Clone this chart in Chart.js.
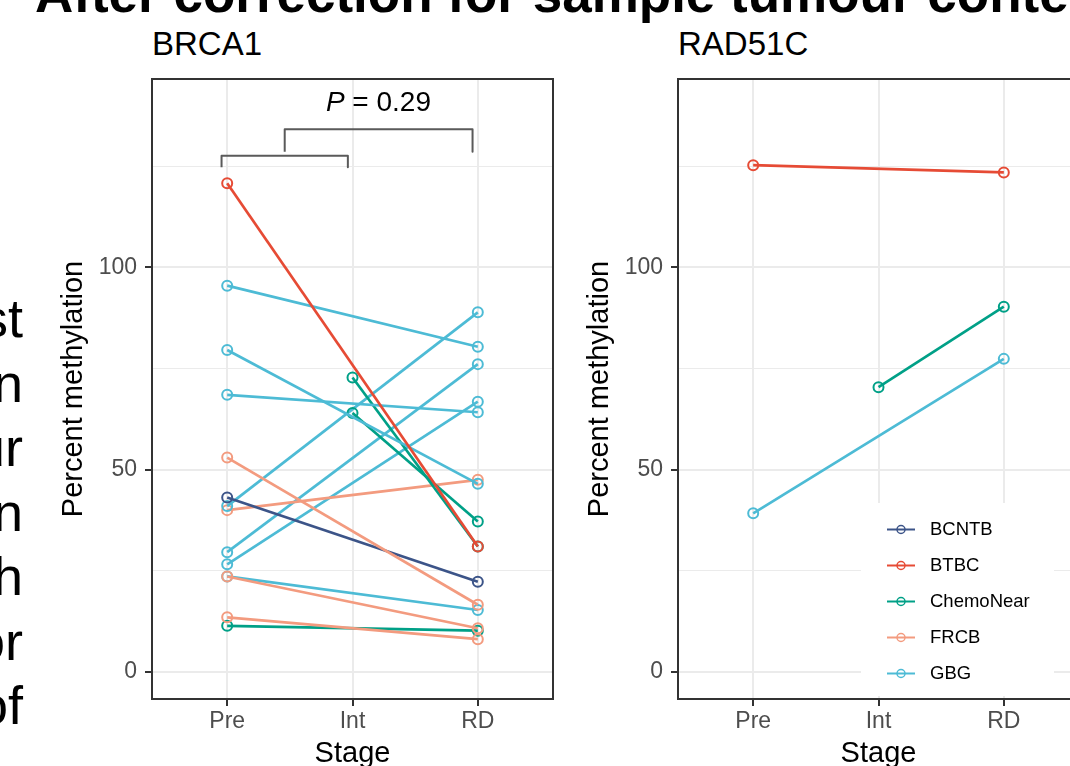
<!DOCTYPE html>
<html>
<head>
<meta charset="utf-8">
<title>Percent methylation by stage</title>
<script src="https://cdn.jsdelivr.net/npm/chart.js@4.4.1/dist/chart.umd.min.js"></script>
<style>
  body { margin: 0; background: #fff; }
  #page { position: relative; width: 1070px; height: 766px; overflow: hidden; font-family: 'Liberation Sans', Arial, sans-serif; color: #000; }
  .heading { position: absolute; left: 35px; top: -33px; font-size: 53px; line-height: 1; font-weight: bold; white-space: nowrap; }
  .side { position: absolute; right: 1047px; top: 286px; font-size: 54px; line-height: 64.5px; text-align: right; white-space: nowrap; }
  .ptitle { position: absolute; top: 27px; font-size: 33px; line-height: 1; white-space: nowrap; }
  canvas { position: absolute; top: 0; }
</style>
</head>
<body>
<div id="page">
  <div class="heading">After correction for sample tumour content</div>
  <div class="side">st<br>n<br>ur<br>n<br>h<br>or<br>of</div>
  <div class="ptitle" style="left:152px">BRCA1</div>
  <div class="ptitle" style="left:678px">RAD51C</div>
  <canvas id="brca1" width="560" height="790" style="left:0"></canvas>
  <canvas id="rad51c" width="560" height="790" style="left:526px"></canvas>
</div>
<script>
const stages = ['Pre', 'Int', 'RD'];
const groups = ['BCNTB', 'BTBC', 'ChemoNear', 'FRCB', 'GBG'];
const groupColors = ['#3C5488', '#E64B35', '#00A087', '#F39B7F', '#4DBBD5'];
const yTicks = [0, 25, 50, 75, 100, 125];

// BRCA1, one entry per patient (null = not sampled at that stage)
const brca1Group = ['BTBC', 'GBG', 'GBG', 'GBG', 'ChemoNear', 'ChemoNear', 'FRCB', 'BCNTB',
  'GBG', 'FRCB', 'GBG', 'GBG', 'FRCB', 'GBG', 'FRCB', 'ChemoNear'];
const brca1Pre = [120.8, 95.5, 79.6, 68.5, null, null, 53.0, 43.1, 41.0, 40.0, 29.6, 26.6, 23.6, 23.6, 13.5, 11.4];
const brca1Int = [null, null, null, null, 72.8, 64.0, null, null, null, null, null, null, null, null, null, null];
const brca1RD = [31.0, 80.4, 46.5, 64.2, 31.0, 37.2, 16.6, 22.3, 88.9, 47.5, 76.1, 66.8, 10.8, 15.3, 8.1, 10.2];

// RAD51C
const rad51cGroup = ['BTBC', 'ChemoNear', 'GBG'];
const rad51cPre = [125.3, null, 39.2];
const rad51cInt = [null, 70.4, null];
const rad51cRD = [123.5, 90.3, 77.4];

// comparison brackets and p value for BRCA1, in data units
const bracketX = [[-0.045, -0.045, 0.963, 0.963], [0.459, 0.459, 1.958, 1.958]];
const bracketY = [[124.8, 127.6, 127.6, 124.8], [128.6, 134.2, 134.2, 128.6]];
const pValue = '0.29';
const pLabelAt = { x: 1.207, y: 138.6 };

Chart.defaults.font.family = "'Liberation Sans', Arial, sans-serif";

function patientSets(groupArr, pre, int, rd) {
  return groupArr.map((g, i) => {
    const c = groupColors[groups.indexOf(g)];
    const pts = [pre[i], int[i], rd[i]]
      .map((v, j) => (v == null ? null : { x: j, y: v }))
      .filter(Boolean);
    return {
      label: g,
      data: pts,
      borderColor: c,
      borderWidth: 2.7,
      pointBorderColor: c,
      pointBackgroundColor: 'rgba(0,0,0,0)',
      pointRadius: 5,
      pointBorderWidth: 2,
      tension: 0
    };
  });
}

function bracketSets() {
  return bracketX.map((xs, k) => ({
    label: 'bracket',
    data: xs.map((x, j) => ({ x, y: bracketY[k][j] })),
    borderColor: '#5A5A5A',
    borderWidth: 2,
    borderJoinStyle: 'round',
    pointRadius: 0,
    tension: 0
  }));
}

function drawLegend(ctx) {
  ctx.fillStyle = '#fff';
  ctx.fillRect(335, 503, 193, 193);
  groups.forEach((g, i) => {
    const y = 529.5 + i * 36;
    ctx.strokeStyle = groupColors[i];
    ctx.lineWidth = 2;
    ctx.beginPath();
    ctx.moveTo(361, y);
    ctx.lineTo(389, y);
    ctx.stroke();
    ctx.lineWidth = 1.5;
    ctx.beginPath();
    ctx.arc(375, y, 4, 0, Math.PI * 2);
    ctx.stroke();
    ctx.fillStyle = '#000';
    ctx.font = "18.5px 'Liberation Sans', Arial, sans-serif";
    ctx.textBaseline = 'middle';
    ctx.textAlign = 'left';
    ctx.fillText(g, 404, y);
  });
}

function drawPLabel(chart) {
  const { ctx, scales } = chart;
  const px = scales.x.getPixelForValue(pLabelAt.x);
  const py = scales.y.getPixelForValue(pLabelAt.y);
  const rest = ' = ' + pValue;
  ctx.font = "italic 28px 'Liberation Sans', Arial, sans-serif";
  const w1 = ctx.measureText('P').width;
  ctx.font = "28px 'Liberation Sans', Arial, sans-serif";
  const w2 = ctx.measureText(rest).width;
  const x0 = px - (w1 + w2) / 2;
  ctx.fillStyle = '#000';
  ctx.textBaseline = 'alphabetic';
  ctx.textAlign = 'left';
  ctx.font = "italic 28px 'Liberation Sans', Arial, sans-serif";
  ctx.fillText('P', x0, py);
  ctx.font = "28px 'Liberation Sans', Arial, sans-serif";
  ctx.fillText(rest, x0 + w1, py);
}

function framePlugin(withLegend, withP) {
  return {
    id: 'frame',
    afterDatasetsDraw(chart) {
      const { ctx, chartArea: a } = chart;
      ctx.save();
      if (withP) drawPLabel(chart);
      if (withLegend) drawLegend(ctx);
      ctx.strokeStyle = '#333333';
      ctx.lineWidth = 2;
      ctx.strokeRect(a.left, a.top, a.right - a.left, a.bottom - a.top);
      ctx.restore();
    }
  };
}

const isMajor = c => c.tick && c.tick.value % 50 === 0;

function makePanel(id, datasets, plugin) {
  return new Chart(document.getElementById(id), {
    type: 'line',
    data: { datasets },
    options: {
      responsive: false,
      devicePixelRatio: 1,
      animation: false,
      events: [],
      layout: { padding: { top: 79, right: 6, left: 0, bottom: 0 } },
      plugins: { legend: { display: false }, tooltip: { enabled: false } },
      scales: {
        x: {
          type: 'linear',
          min: -0.6,
          max: 2.6,
          afterBuildTicks: s => { s.ticks = stages.map((_, i) => ({ value: i })); },
          afterFit: s => { s.height = 91; },
          border: { display: false },
          grid: { color: '#EBEBEB', lineWidth: 2, tickColor: '#333333', tickLength: 7, tickWidth: 2 },
          ticks: { color: '#4D4D4D', font: { size: 23 }, padding: 2, maxRotation: 0, callback: v => stages[v] },
          title: { display: true, text: 'Stage', color: '#000', font: { size: 29 }, padding: { top: 0, bottom: 18.6 } }
        },
        y: {
          type: 'linear',
          min: -6.7,
          max: 146.6,
          afterBuildTicks: s => { s.ticks = yTicks.map(v => ({ value: v })); },
          afterFit: s => { s.width = 152; },
          border: { display: false },
          grid: {
            color: '#EBEBEB',
            lineWidth: c => (isMajor(c) ? 2 : 1),
            tickColor: c => (isMajor(c) ? '#333333' : 'rgba(0,0,0,0)'),
            tickLength: 7,
            tickWidth: 2
          },
          ticks: { color: '#4D4D4D', font: { size: 23 }, padding: 8, callback: v => (v % 50 === 0 ? v : '') },
          title: { display: true, text: 'Percent methylation', color: '#000', font: { size: 29 }, padding: { top: 56.6, bottom: 0 } }
        }
      }
    },
    plugins: [plugin]
  });
}

makePanel('brca1',
  patientSets(brca1Group, brca1Pre, brca1Int, brca1RD).concat(bracketSets()),
  framePlugin(false, true));

makePanel('rad51c',
  patientSets(rad51cGroup, rad51cPre, rad51cInt, rad51cRD),
  framePlugin(true, false));
</script>
</body>
</html>
